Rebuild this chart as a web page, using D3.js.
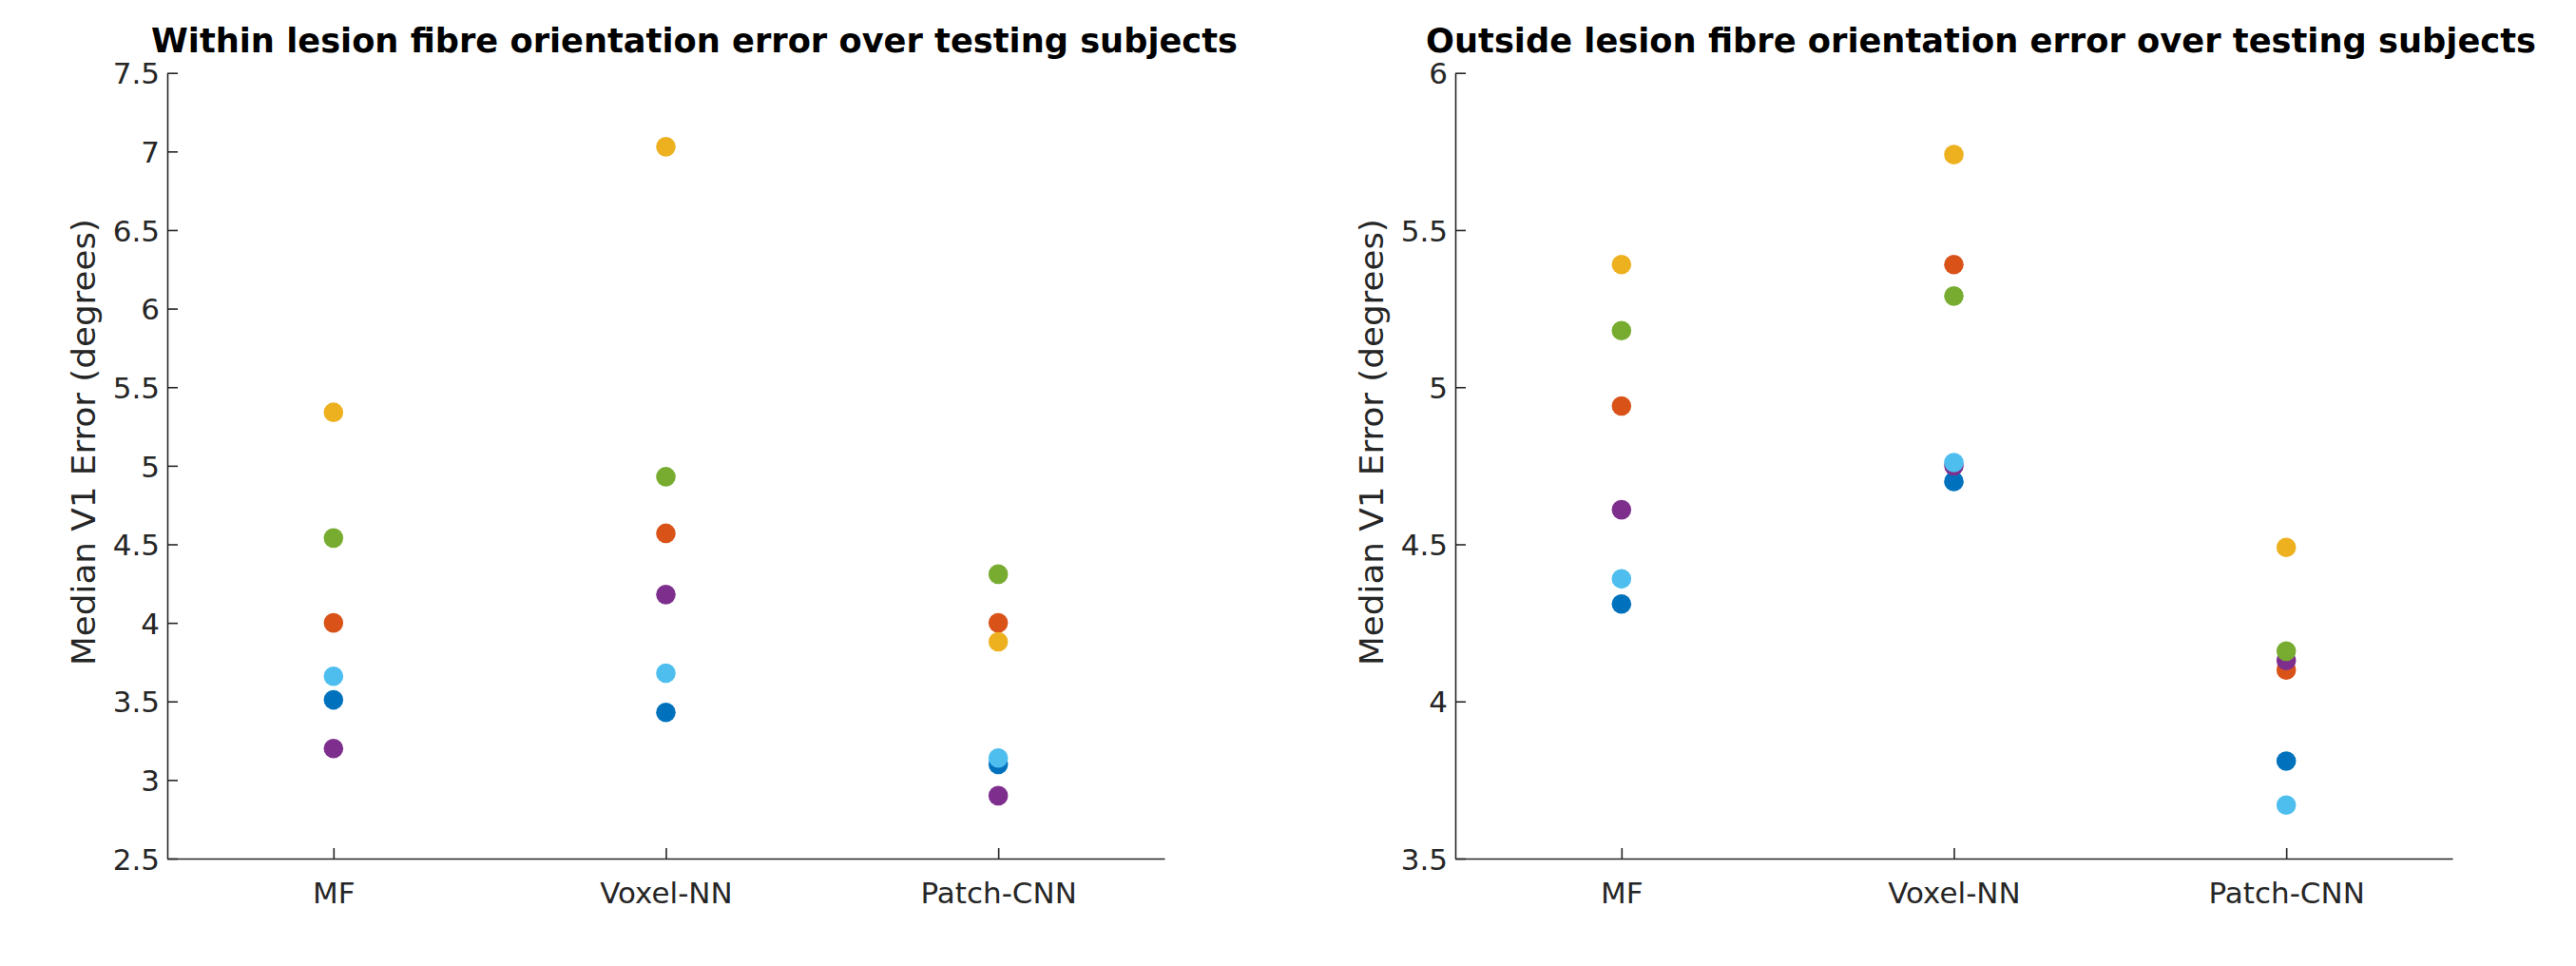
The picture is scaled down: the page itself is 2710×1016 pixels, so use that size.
<!DOCTYPE html>
<html>
<head>
<meta charset="utf-8">
<script src="https://cdn.jsdelivr.net/npm/d3@7"></script>
<style>
  html, body { margin: 0; padding: 0; background: #fff; }
  svg { display: block; }
</style>
</head>
<body>
<svg id="chart" width="2710" height="1016"></svg>
<script>
// ---- Data ----
const categories = ["MF", "Voxel-NN", "Patch-CNN"];
const seriesColors = ["#0072BD", "#D95319", "#EDB120", "#7E2F8E", "#77AC30", "#4DBEEE"];

// Within lesion (one array per testing subject, values per method)
const withinS1 = [3.51, 3.43, 3.10];
const withinS2 = [4.00, 4.57, 4.00];
const withinS3 = [5.34, 7.03, 3.88];
const withinS4 = [3.20, 4.18, 2.90];
const withinS5 = [4.54, 4.93, 4.31];
const withinS6 = [3.66, 3.68, 3.14];

// Outside lesion
const outsideS1 = [4.31, 4.70, 3.81];
const outsideS2 = [4.94, 5.39, 4.10];
const outsideS3 = [5.39, 5.74, 4.49];
const outsideS4 = [4.61, 4.75, 4.13];
const outsideS5 = [5.18, 5.29, 4.16];
const outsideS6 = [4.39, 4.76, 3.67];

const withinTicks = [2.5, 3, 3.5, 4, 4.5, 5, 5.5, 6, 6.5, 7, 7.5];
const outsideTicks = [3.5, 4, 4.5, 5, 5.5, 6];

const titles = ["Within lesion fibre orientation error over testing subjects",
                "Outside lesion fibre orientation error over testing subjects"];
const yLabel = "Median V1 Error (degrees)";

// ---- Drawing ----
const svg = d3.select("#chart");
const axisColor = "#262626";
const font = "'DejaVu Sans', Verdana, sans-serif";

const panels = [
  { left: 176, right: 1225, series: [withinS1, withinS2, withinS3, withinS4, withinS5, withinS6],
    ticks: withinTicks, title: titles[0], titleX: 159, titleLen: 1143 },
  { left: 1531, right: 2580, series: [outsideS1, outsideS2, outsideS3, outsideS4, outsideS5, outsideS6],
    ticks: outsideTicks, title: titles[1], titleX: 1500, titleLen: 1168 }
];

const plotTop = 76.7, plotBottom = 903;

panels.forEach(p => {
  const g = svg.append("g");
  const x = d3.scalePoint().domain(categories).range([p.left, p.right]).padding(0.5);
  const y = d3.scaleLinear().domain(d3.extent(p.ticks)).range([plotBottom, plotTop]);

  // y axis
  const ya = g.append("g").attr("transform", `translate(${p.left},0)`)
    .call(d3.axisLeft(y).tickValues(p.ticks).tickFormat(d => String(d))
      .tickSizeInner(-11).tickSizeOuter(0).tickPadding(8));
  // x axis
  const xa = g.append("g").attr("transform", `translate(0,${plotBottom})`)
    .call(d3.axisBottom(x).tickSizeInner(-11).tickSizeOuter(0));

  [ya, xa].forEach(a => {
    a.select(".domain").attr("stroke", axisColor).attr("stroke-width", 1.6);
    a.selectAll(".tick line").attr("stroke", axisColor).attr("stroke-width", 1.6);
    a.selectAll(".tick text").attr("fill", axisColor)
      .style("font-family", font).style("font-size", "31px");
  });
  ya.selectAll(".tick text").attr("dy", "0.36em");
  xa.selectAll(".tick text").attr("y", 47).attr("dy", 0);

  // y label
  g.append("text")
    .attr("transform", `translate(${p.left - 76},465) rotate(-90)`)
    .attr("text-anchor", "middle")
    .attr("textLength", 470).attr("lengthAdjust", "spacingAndGlyphs")
    .style("font-family", font).style("font-size", "34px")
    .attr("fill", axisColor)
    .text(yLabel);

  // title
  g.append("text")
    .attr("x", p.titleX).attr("y", 55)
    .attr("textLength", p.titleLen).attr("lengthAdjust", "spacingAndGlyphs")
    .style("font-family", font).style("font-size", "35px").style("font-weight", "bold")
    .attr("fill", "#000")
    .text(p.title);

  // points
  p.series.forEach((vals, si) => {
    g.append("g").selectAll("circle")
      .data(vals)
      .join("circle")
      .attr("cx", (d, i) => x(categories[i]))
      .attr("cy", d => y(d))
      .attr("r", 10.3)
      .attr("fill", seriesColors[si]);
  });
});
</script>
</body>
</html>
